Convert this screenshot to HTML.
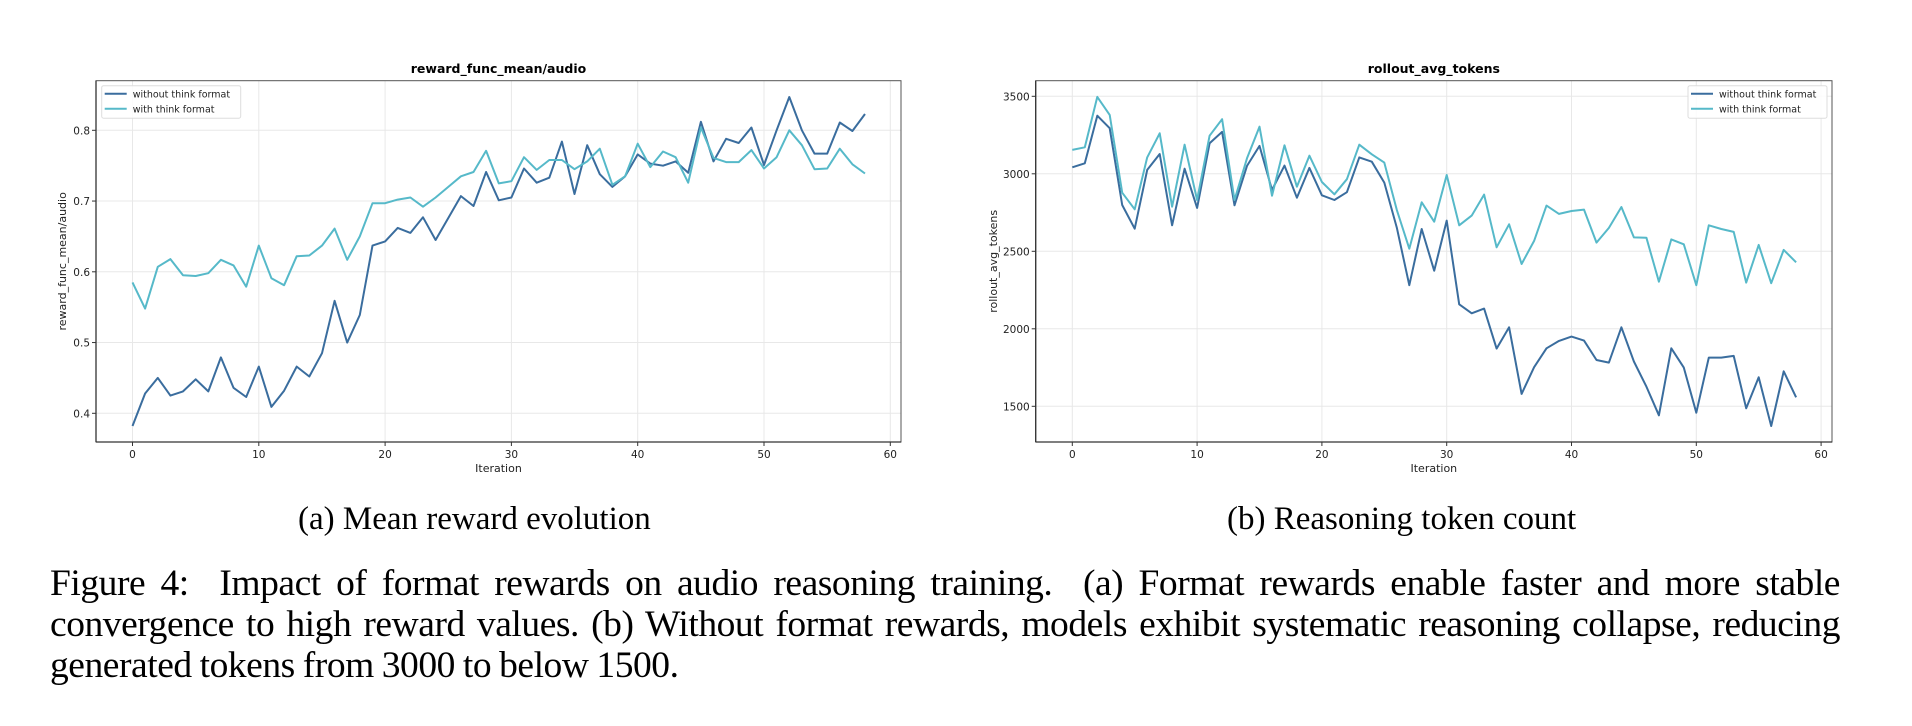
<!DOCTYPE html>
<html><head><meta charset="utf-8">
<style>
html,body{margin:0;padding:0;background:#fff;}
body{width:1912px;height:726px;position:relative;overflow:hidden;}
svg{position:absolute;left:0;top:0;}
.cap{position:absolute;font-family:"Liberation Serif",serif;color:#000;line-height:1;white-space:nowrap;}
#fig{left:50px;top:563px;width:1790px;font-size:37.5px;letter-spacing:-0.45px;word-spacing:-1px;line-height:41px;text-align:justify;text-align-last:left;white-space:normal;}
</style></head><body>
<svg id="s" width="1912" height="490" xmlns="http://www.w3.org/2000/svg" font-family="DejaVu Sans, sans-serif"></svg>
<div class="cap" style="left:298px;top:503px;font-size:33px;">(a) Mean reward evolution</div>
<div class="cap" style="left:1227px;top:503px;font-size:33px;">(b) Reasoning token count</div>
<div class="cap" id="fig">Figure 4:&nbsp; Impact of format rewards on audio reasoning training.&nbsp; (a) Format rewards enable faster and more stable convergence to high reward values. (b) Without format rewards, models exhibit systematic reasoning collapse, reducing generated tokens from 3000 to below 1500.</div>
<script>
var D='#3a6d9e',L='#56b9c9';
var a1=[0.382,0.428,0.450,0.425,0.431,0.448,0.431,0.479,0.436,0.423,0.466,0.409,0.432,0.466,0.452,0.485,0.559,0.500,0.539,0.637,0.643,0.662,0.655,0.677,0.645,0.676,0.707,0.693,0.741,0.701,0.705,0.746,0.726,0.733,0.784,0.710,0.779,0.738,0.720,0.735,0.766,0.753,0.750,0.756,0.740,0.812,0.756,0.788,0.782,0.804,0.751,0.800,0.847,0.800,0.767,0.767,0.811,0.799,0.823];
var a2=[0.585,0.548,0.607,0.618,0.595,0.594,0.598,0.617,0.609,0.579,0.637,0.591,0.581,0.622,0.623,0.637,0.661,0.617,0.650,0.697,0.697,0.702,0.705,0.692,0.705,0.720,0.735,0.741,0.771,0.725,0.728,0.762,0.744,0.758,0.758,0.745,0.756,0.774,0.723,0.735,0.781,0.748,0.770,0.762,0.726,0.804,0.761,0.755,0.755,0.772,0.746,0.762,0.800,0.779,0.745,0.746,0.774,0.752,0.739];
var b1=[3042,3068,3375,3294,2799,2646,3025,3128,2668,3033,2780,3197,3270,2797,3051,3180,2896,3053,2846,3038,2861,2831,2881,3106,3078,2943,2653,2281,2644,2375,2698,2158,2100,2130,1872,2010,1580,1752,1874,1922,1950,1924,1799,1782,2010,1789,1627,1442,1874,1750,1459,1814,1814,1825,1487,1687,1373,1726,1558];
var b2=[3154,3171,3496,3380,2878,2771,3106,3261,2788,3188,2831,3246,3352,2831,3100,3304,2859,3184,2917,3117,2947,2868,2965,3188,3126,3072,2767,2517,2816,2691,2992,2668,2730,2866,2526,2674,2418,2567,2795,2741,2760,2769,2556,2651,2786,2590,2588,2304,2577,2545,2281,2668,2644,2625,2298,2541,2294,2509,2429];
var h='';
function chart(o){
 var x0=o.fx0,x1=o.fx1,y0=80.7,y1=442;
 var X=function(i){return o.xz+i*o.xs;};
 for(var t=0;t<=60;t+=10){var x=X(t);h+='<line x1="'+x+'" y1="'+y0+'" x2="'+x+'" y2="'+y1+'" stroke="#e8e8e8" stroke-width="1"/>';}
 o.yt.forEach(function(v){var y=o.Y(v);h+='<line x1="'+x0+'" y1="'+y+'" x2="'+x1+'" y2="'+y+'" stroke="#e8e8e8" stroke-width="1"/>';});
 [[o.d1,D],[o.d2,L]].forEach(function(p){var pts=p[0].map(function(v,i){return X(i).toFixed(1)+','+o.Y(v).toFixed(1);}).join(' ');
  h+='<polyline points="'+pts+'" fill="none" stroke="'+p[1]+'" stroke-width="2" stroke-linejoin="round"/>';});
 h+='<rect x="'+x0+'" y="'+y0+'" width="'+(x1-x0)+'" height="'+(y1-y0)+'" fill="none" stroke="#555" stroke-width="1"/>';
 h+='<line x1="'+x0+'" y1="'+y1+'" x2="'+x1+'" y2="'+y1+'" stroke="#333" stroke-width="1.3"/>';
 h+='<line x1="'+x0+'" y1="'+y0+'" x2="'+x0+'" y2="'+y1+'" stroke="#333" stroke-width="1.3"/>';
 for(var t=0;t<=60;t+=10){var x=X(t);h+='<line x1="'+x+'" y1="'+y1+'" x2="'+x+'" y2="'+(y1+4)+'" stroke="#333"/>';
  h+='<text x="'+x+'" y="'+(y1+16)+'" font-size="10.5" text-anchor="middle" fill="#222">'+t+'</text>';}
 o.yt.forEach(function(v){var y=o.Y(v);h+='<line x1="'+(x0-4)+'" y1="'+y+'" x2="'+x0+'" y2="'+y+'" stroke="#333"/>';
  h+='<text x="'+(x0-6)+'" y="'+(y+4)+'" font-size="10.5" text-anchor="end" fill="#222">'+o.lab(v)+'</text>';});
 var cx=(x0+x1)/2;
 h+='<text x="'+cx+'" y="73" font-size="12.5" font-weight="bold" text-anchor="middle" fill="#000">'+o.title+'</text>';
 h+='<text x="'+cx+'" y="472" font-size="11" text-anchor="middle" fill="#222">Iteration</text>';
 h+='<text transform="translate('+o.ylx+','+((y0+y1)/2)+') rotate(-90)" font-size="11" text-anchor="middle" fill="#222">'+o.title2+'</text>';
 var lx=o.lx;h+='<rect x="'+lx+'" y="85.7" width="139" height="32.5" rx="2" fill="#fff" fill-opacity="0.85" stroke="#ddd"/>';
 h+='<line x1="'+(lx+3)+'" y1="93.7" x2="'+(lx+25)+'" y2="93.7" stroke="'+D+'" stroke-width="2"/>';
 h+='<line x1="'+(lx+3)+'" y1="108.7" x2="'+(lx+25)+'" y2="108.7" stroke="'+L+'" stroke-width="2"/>';
 h+='<text x="'+(lx+31)+'" y="97.3" font-size="9.5" fill="#222">without think format</text>';
 h+='<text x="'+(lx+31)+'" y="112.3" font-size="9.5" fill="#222">with think format</text>';
}
chart({fx0:96,fx1:901,xz:132.5,xs:12.63,Y:function(v){return 130.3+(0.8-v)*707.5;},yt:[0.4,0.5,0.6,0.7,0.8],lab:function(v){return v.toFixed(1);},d1:a1,d2:a2,title:'reward_func_mean/audio',title2:'reward_func_mean/audio',ylx:66,lx:101.7});
chart({fx0:1035.7,fx1:1832,xz:1072.3,xs:12.48,Y:function(v){return 96.3+(3500-v)*0.155;},yt:[1500,2000,2500,3000,3500],lab:function(v){return ''+v;},d1:b1,d2:b2,title:'rollout_avg_tokens',title2:'rollout_avg_tokens',ylx:997,lx:1688});
document.getElementById('s').innerHTML=h;
</script>
</body></html>
